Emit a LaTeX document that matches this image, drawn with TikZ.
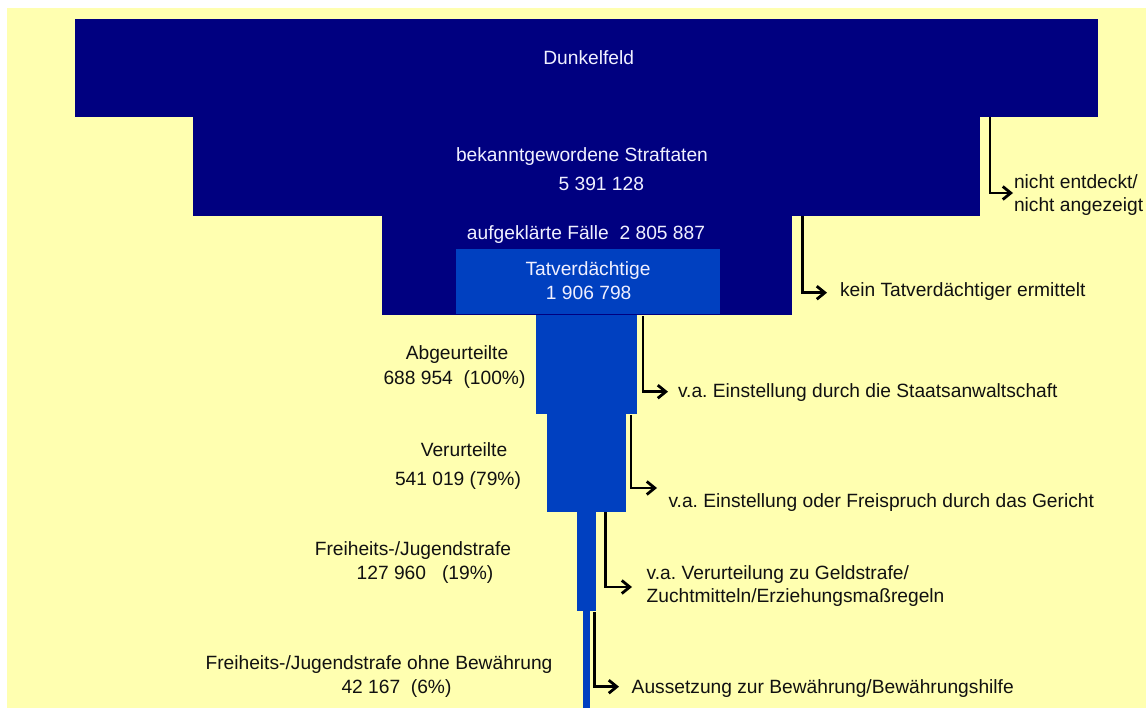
\documentclass[tikz,border=0pt]{standalone}
\usepackage{fontspec}
\setmainfont{Liberation Sans}
\usetikzlibrary{arrows.meta}
\definecolor{bg}{HTML}{FFFFB0}
\definecolor{navy}{HTML}{000080}
\definecolor{mblue}{HTML}{0040C0}
\definecolor{ltext}{HTML}{F0F0FF}
\definecolor{dtext}{HTML}{111111}
\frenchspacing
\begin{document}
\begin{tikzpicture}[x=1pt,y=-1pt,
  every node/.style={font=\fontsize{19.2}{23}\selectfont, inner sep=0pt, outer sep=0pt},
  navybox/.style={fill=navy},
  bluebox/.style={fill=mblue},
  wlabel/.style={text=ltext, anchor=base},
  blabel/.style={text=dtext, anchor=base},
  note/.style={text=dtext, anchor=base west},
  note2/.style={text=dtext, anchor=west, align=left},
  arr/.style={draw=black, line width=2.8pt, -{Straight Barb[length=8pt,width=13pt]}}
]
\fill[white] (0,0) rectangle (1146,708);
\fill[bg] (7,8) rectangle (1146,708);
\useasboundingbox (0,0) rectangle (1146,708);

% funnel boxes
\node[navybox, minimum width=1023pt, minimum height=98.5pt] (dunkel) at (586.5,68.25) {};
\node[navybox, minimum width=787pt, minimum height=99pt] (bekannt) at (586.5,166.75) {};
\node[navybox, minimum width=410pt, minimum height=99pt] (auf) at (587,265.5) {};
\node[bluebox, minimum width=264pt, minimum height=65pt] (tat) at (588,281.5) {};
\node[bluebox, minimum width=101pt, minimum height=99pt] (abge) at (586.5,364.5) {};
\node[bluebox, minimum width=79pt, minimum height=98pt] (verur) at (586.5,463) {};
\node[bluebox, minimum width=19pt, minimum height=98.5pt] (frei) at (586.5,561.25) {};
\node[bluebox, minimum width=7pt, minimum height=97.5pt] (ohne) at (586.5,659.25) {};

% labels in boxes
\node[wlabel] (tDunkel) at (588.7,65) {Dunkelfeld};
\node[wlabel] (tBek) at (582,161.7) {bekanntgewordene Straftaten};
\node[wlabel] (tBekN) at (601.3,190.7) {5 391 128};
\node[wlabel] (tAuf) at (586,240) {aufgeklärte Fälle\ \ 2 805 887};
\node[wlabel] (tTat) at (588,276) {Tatverdächtige};
\node[wlabel] (tTatN) at (588.7,300) {1 906 798};

% labels on the left
\node[blabel] (tAbg) at (457,360) {Abgeurteilte};
\node[blabel] (tAbgN) at (454.5,385) {688 954\ \ (100\%)};
\node[blabel] (tVer) at (464,456.7) {Verurteilte};
\node[blabel] (tVerN) at (458,485) {541 019 (79\%)};
\node[blabel] (tFrei) at (413,555) {Freiheits-/Jugendstrafe};
\node[blabel] (tFreiN) at (425,579) {127 960\ \ \ (19\%)};
\node[blabel] (tOhne) at (379,669) {Freiheits-/Jugendstrafe ohne Bewährung};
\node[blabel] (tOhneN) at (396.5,693) {42 167\ \ (6\%)};

% notes on the right
\node[note2] (n1) at (1014,194.7) {nicht entdeckt/\\nicht angezeigt};
\node[note] (n2) at (840,297) {kein Tatverdächtiger ermittelt};
\node[note] (n3) at (678,398) {v.a. Einstellung durch die Staatsanwaltschaft};
\node[note] (n4) at (668.5,507) {v.a. Einstellung oder Freispruch durch das Gericht};
\node[note2] (n5) at (646.7,585.7) {v.a. Verurteilung zu Geldstrafe/\\Zuchtmitteln/Erziehungsmaßregeln};
\node[note] (n6) at (631.7,693) {Aussetzung zur Bewährung/Bewährungshilfe};

% arrow heads (free ends)
\coordinate (h1) at (1013,193);
\coordinate (h2) at (827,292.7);
\coordinate (h3) at (668,391.7);
\coordinate (h4) at (657,488);
\coordinate (h5) at (632,587);
\coordinate (h6) at (619,686.7);

\draw[arr] ([xshift=-108pt]dunkel.south east) |- (h1);
\draw[arr] ([xshift=-177.3pt]bekannt.south east) |- (h2);
\draw[arr] ([xshift=-149pt,yshift=-1pt]auf.south east) |- (h3);
\draw[arr] ([xshift=-6pt,yshift=-1pt]abge.south east) |- (h4);
\draw[arr] ([xshift=-20.7pt]verur.south east) |- (h5);
\draw[arr] ([xshift=-1.7pt,yshift=-1.5pt]frei.south east) |- (h6);
\end{tikzpicture}
\end{document}
